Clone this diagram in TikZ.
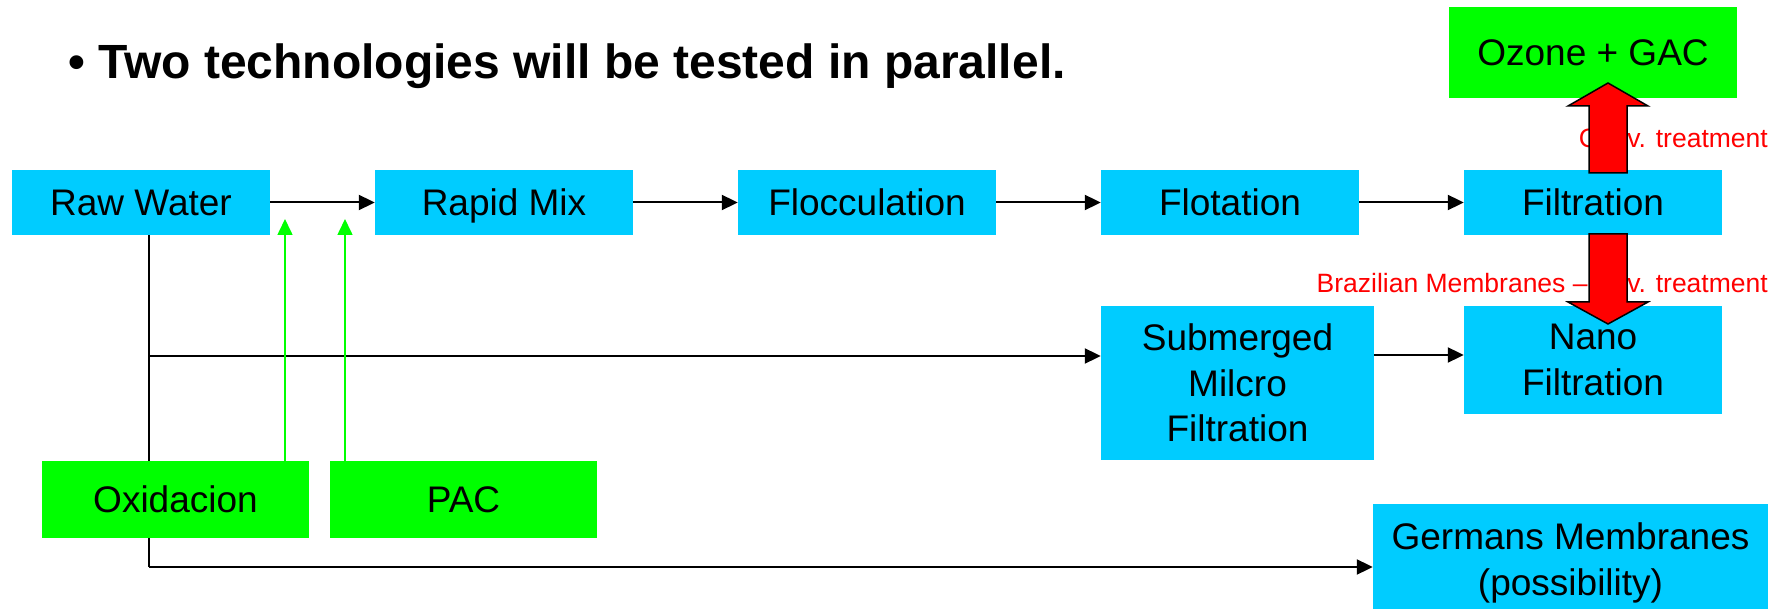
\documentclass[tikz,border=0pt]{standalone}
\usepackage{fontspec}
\setmainfont{Liberation Sans}
\usetikzlibrary{arrows.meta,calc}
\definecolor{boxcyan}{HTML}{00CCFF}
\definecolor{boxgreen}{HTML}{00FF00}
\definecolor{lblred}{HTML}{FF0000}
\begin{document}
\begin{tikzpicture}[x=1pt,y=-1pt,
  cbox/.style={fill=boxcyan,draw=none,inner sep=0pt,align=center,
    font=\fontsize{37}{45.5}\selectfont},
  gbox/.style={fill=boxgreen,draw=none,inner sep=0pt,align=center,
    font=\fontsize{37}{45.5}\selectfont},
  oneline/.style={text height=26.5pt,text depth=0pt},
  flow/.style={draw=black,line width=2pt,-{Triangle[length=16pt,width=15pt]}},
  plain/.style={draw=black,line width=2pt},
  gflow/.style={draw=boxgreen,line width=1.6pt,-{Triangle[length=16pt,width=15pt]}},
  redlbl/.style={text=lblred,inner sep=0pt,font=\fontsize{26.5}{30}\selectfont},
  bigarrow/.style={fill=red,draw=black,line width=1.5pt,line join=miter}
]
\useasboundingbox (0,0) rectangle (1780,609);
\clip (0,0) rectangle (1780,609);

% title
\node[anchor=base west,inner sep=0pt,font=\fontsize{48}{56}\selectfont\bfseries] (title) at (68,79)
  {• Two technologies will be tested in parallel.};

% coordinates for connectors
\coordinate (jb) at (149,356);
\coordinate (jc) at (149,567);
\coordinate (lowy) at (0,355);
\coordinate (g1) at (285,219);
\coordinate (g2) at (345,219);

% boxes
\node[cbox,oneline,minimum width=258pt,minimum height=65pt] (raw) at (141,202.5) {Raw Water};
\node[cbox,oneline,minimum width=258pt,minimum height=65pt] (rapid) at (504,202.5) {Rapid Mix};
\node[cbox,oneline,minimum width=258pt,minimum height=65pt] (flocc) at (867,202.5) {Flocculation};
\node[cbox,oneline,minimum width=258pt,minimum height=65pt] (flot) at (1230,202.5) {Flotation};
\node[cbox,oneline,minimum width=258pt,minimum height=65pt] (filt) at (1593,202.5) {Filtration};
\node[gbox,oneline,minimum width=288pt,minimum height=91pt] (ozone) at (1593,52.5) {Ozone + GAC};
\node[cbox,minimum width=273pt,minimum height=154pt] (sub) at (1237.5,383) {Submerged\\Milcro\\Filtration};
\node[cbox,minimum width=258pt,minimum height=108pt] (nano) at (1593,360) {Nano\\Filtration};
\node[cbox,minimum width=395pt,minimum height=118pt] (germ) at (1570.5,563) {Germans Membranes\\(possibility)};

% lines drawn below the lower boxes
\draw[plain] (raw.south -| jc) -- (jc);
\draw[flow] (jb) -- (sub.west |- jb);
\draw[flow] (jc) -- (germ.west |- jc);
\coordinate (o1) at (285,461);
\coordinate (o2) at (345,461);
\draw[gflow] (o1) -- (g1);
\draw[gflow] (o2) -- (g2);

\node[gbox,oneline,minimum width=267pt,minimum height=77pt] (oxid) at (175.5,499.5) {Oxidacion};
\node[gbox,oneline,minimum width=267pt,minimum height=77pt] (pac) at (463.5,499.5) {PAC};

% connectors between boxes
\draw[flow] (raw) -- (rapid);
\draw[flow] (rapid) -- (flocc);
\draw[flow] (flocc) -- (flot);
\draw[flow] (flot) -- (filt);
\draw[flow] (sub.east |- lowy) -- (nano.west |- lowy);

% red labels
\node[redlbl,anchor=base east] (lconv) at (1768,148) {Conv. treatment};
\node[redlbl,anchor=base east] (ladv) at (1768,293) {Brazilian Membranes – Adv. treatment};

% block arrows
\draw[bigarrow] (1589,173) -- (1589,106) -- (1568,106) -- (1608,83) -- (1648,106) -- (1627,106) -- (1627,173) -- cycle;
\draw[bigarrow] (1589,234) -- (1589,302) -- (1568,302) -- (1608,324) -- (1648,302) -- (1627,302) -- (1627,234) -- cycle;
\end{tikzpicture}
\end{document}
